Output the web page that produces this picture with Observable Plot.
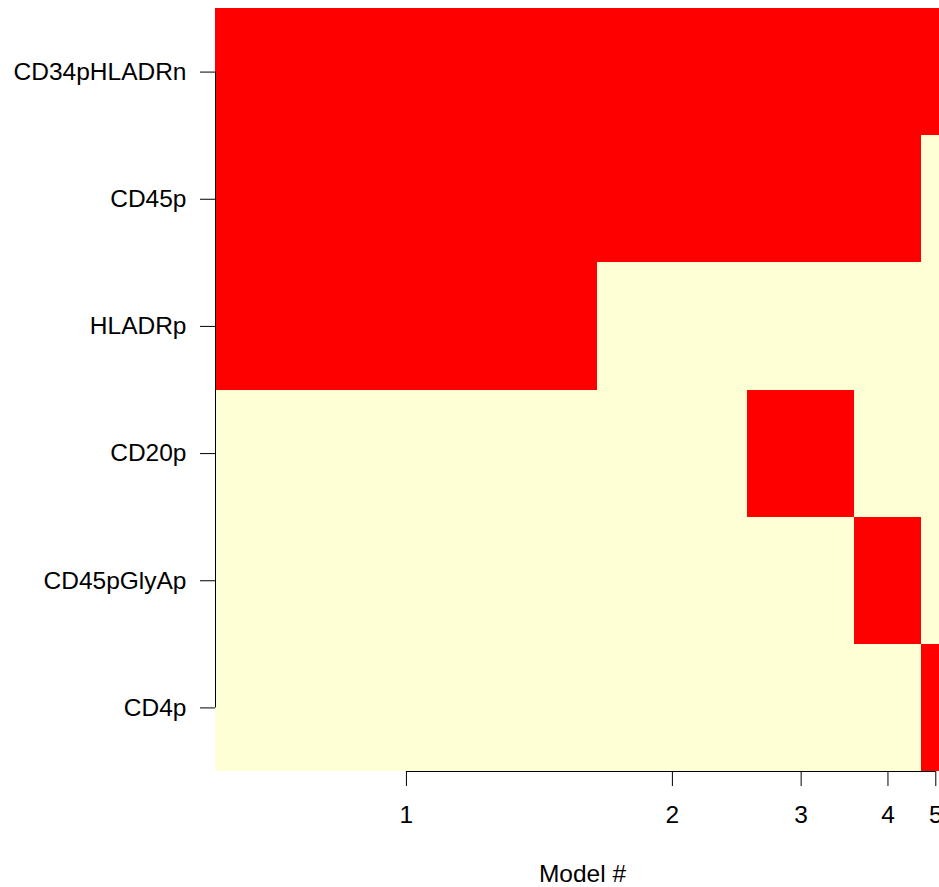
<!DOCTYPE html>
<html>
<head>
<meta charset="utf-8">
<script src="https://cdn.jsdelivr.net/npm/d3@7"></script>
<script src="https://cdn.jsdelivr.net/npm/@observablehq/plot@0.6"></script>
<style>
  html, body { margin: 0; padding: 0; background: #fff; overflow: hidden; }
  #chart { width: 939px; height: 887px; }
</style>
</head>
<body>
<div id="chart"></div>
<script>
// Variables (rows, top to bottom)
const variables = ["CD34pHLADRn", "CD45p", "HLADRp", "CD20p", "CD45pGlyAp", "CD4p"];
// Posterior probability of each selected model (column widths)
const postProb = [0.519, 0.204, 0.146, 0.090, 0.040];
// Model labels along the x axis
const modelLabels = ["1", "2", "3", "4", "5"];
// Inclusion of each variable (row) in each model (column)
const included = [
  [1, 1, 1, 1, 1],
  [1, 1, 1, 1, 0],
  [1, 0, 0, 0, 0],
  [0, 0, 1, 0, 0],
  [0, 0, 0, 1, 0],
  [0, 0, 0, 0, 1]
];

// Cumulative probability boundaries of each model column
const starts = [];
let acc = 0;
for (const p of postProb) { starts.push(acc); acc += p; }
const total = acc;
const centers = postProb.map((p, i) => starts[i] + p / 2);

const cells = [];
variables.forEach((v, r) => {
  postProb.forEach((p, m) => {
    cells.push({row: r, x1: starts[m], x2: starts[m] + p, inc: included[r][m]});
  });
});

const chart = Plot.plot({
  width: 939,
  height: 887,
  marginTop: 8,
  marginLeft: 215,
  marginRight: 0,
  marginBottom: 116,
  style: {fontFamily: "'Liberation Sans', Arial, sans-serif", fontSize: "24.5px", background: "#fff", color: "#000"},
  x: {domain: [0, total], range: [215, 950]},
  y: {domain: [0, variables.length], range: [8, 771]},
  marks: [
    Plot.rect(cells, {
      x1: "x1", x2: "x2",
      y1: d => d.row, y2: d => d.row + 1,
      fill: d => d.inc ? "#FF0000" : "#FFFFD5",
      shapeRendering: "crispEdges"
    }),
    Plot.axisY({
      ticks: variables.map((_, i) => i + 0.5),
      tickFormat: t => variables[Math.floor(t)],
      tickSize: 15,
      tickPadding: 14,
      label: null,
      fontSize: 24.5
    }),
    Plot.ruleX([0], {y1: 0.5, y2: variables.length - 0.5, stroke: "#000"}),
    Plot.axisX({
      ticks: centers,
      tickFormat: t => modelLabels[centers.indexOf(t)],
      tickSize: 15,
      tickPadding: 19,
      label: null,
      fontSize: 24.5
    }),
    Plot.ruleY([variables.length], {x1: centers[0], x2: centers[centers.length - 1], stroke: "#000"}),
    Plot.text(["Model #"], {
      frameAnchor: "bottom",
      dy: 110,
      dx: 5,
      fontSize: 24.5,
      fill: "#000"
    })
  ]
});

document.getElementById("chart").appendChild(chart);
</script>
</body>
</html>
